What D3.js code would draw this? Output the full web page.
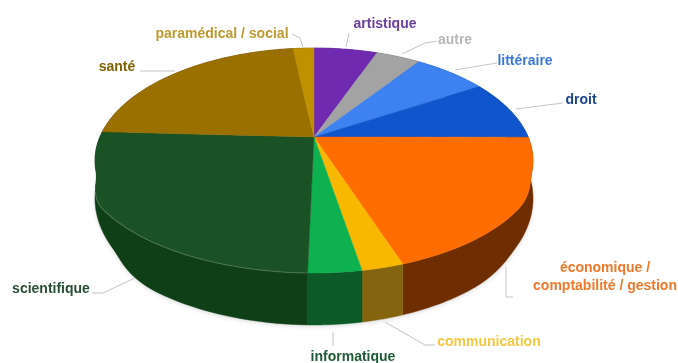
<!DOCTYPE html>
<html>
<head>
<meta charset="utf-8">
<script src="https://cdnjs.cloudflare.com/ajax/libs/d3/7.8.5/d3.min.js"></script>
<style>
html, body { margin: 0; padding: 0; background: #fff; }
svg { display: block; filter: blur(0.55px); }
text { font-family: "Liberation Sans", Arial, sans-serif; font-weight: bold; font-size: 14px; }
</style>
</head>
<body>
<svg id="chart" width="678" height="363"></svg>
<script>
// clockwise from the top of the disc
var categories = ['artistique', 'autre', 'littéraire', 'droit', 'économique / comptabilité / gestion',
	'communication', 'informatique', 'scientifique', 'santé', 'paramédical / social'];
var shares = [5.7, 4.0, 6.6, 8.7, 19.75, 2.45, 3.1, 25.4, 22.3, 1.9];
var sliceColors = ['#6f2ab0', '#a3a3a3', '#3d82f0', '#1155cc', '#ff6d01',
	'#f9b800', '#0eb14f', '#1a5225', '#9a7000', '#bf9000'];
var wallColors = ['#3a1560', '#555555', '#1f4588', '#0a2e70', '#6e2e00',
	'#85640f', '#0b5a27', '#0f3f17', '#503a00', '#604800'];
var labelColors = ['#6b3fa0', '#b7b7b7', '#3c78d8', '#1c4587', '#f0782a',
	'#f5c842', '#1f5c34', '#2a4f36', '#7f6000', '#bf9a30'];

// label layout, one line per row of text
var labelRows = [
	{c: 0, lines: ['artistique'], x: 385, y: 28},
	{c: 1, lines: ['autre'], x: 455, y: 44},
	{c: 2, lines: ['littéraire'], x: 525, y: 65},
	{c: 3, lines: ['droit'], x: 581, y: 104},
	{c: 4, lines: ['économique /', 'comptabilité / gestion'], x: 605, y: 272},
	{c: 5, lines: ['communication'], x: 489, y: 346},
	{c: 6, lines: ['informatique'], x: 353, y: 361},
	{c: 7, lines: ['scientifique'], x: 51, y: 293},
	{c: 8, lines: ['santé'], x: 117, y: 71},
	{c: 9, lines: ['paramédical / social'], x: 222, y: 38}
];
var leaders = [
	[[349, 33], [346, 47]],
	[[437, 41], [425, 43], [402, 54]],
	[[497, 63], [455, 70]],
	[[563, 103], [516, 109]],
	[[506, 267], [506, 297], [513, 297]],
	[[435, 345], [425, 345], [385, 322]],
	[[333, 332], [333, 346]],
	[[92, 293], [103, 293], [135, 278]],
	[[140, 71], [175, 71]],
	[[292, 34], [300, 38], [303, 47]]
];

var svg = d3.select('#chart');

// perspective of the disc
var apexX = 314,
	persp = 0.209,
	radiusX = 214.2;
// the near half of the disc is a bit wider than a true ellipse
var topRim = {y: 137, a: 107.6, left: 0.07, right: 0.035, from: 0.3},
	bottomRim = {y: 172, a: 121, left: 0.07, right: 0.035, from: 0.55};

var project = function(angle, rim, r) {
	var u = Math.sin(angle) * r,
		v = Math.cos(angle) * r,
		w = 1 + persp * v,
		t = Math.max(0, Math.min(1, (-v - rim.from) / 0.3)),
		sx = 1 + (u < 0 ? rim.left : rim.right) * t * t * (3 - 2 * t);
	return [apexX + radiusX * sx * u / w, rim.y - rim.a * v / w];
};

var rimPoints = function(d, rim) {
	var pts = d3.range(0, 61).map(function(i) {
		return project(d.startAngle + (d.endAngle - d.startAngle) * i / 60, rim, 1);
	});
	return pts;
};

var line = d3.line();

var pie = d3.pie().sort(null).value(function(d) { return d; });
var slices = pie(shares);

// soft shadow under the base
svg.append('path')
	.attr('d', line(d3.range(0, 121).map(function(i) {
		return project(i / 120 * 2 * Math.PI, Object.assign({}, bottomRim, {y: bottomRim.y + 1.5}), 1);
	})) + 'Z')
	.attr('fill', '#d8dbd8')
	.style('filter', 'blur(2px)');

// walls first, the top face hides the back ones
svg.selectAll('path.wall')
	.data(slices)
	.enter().append('path')
	.attr('class', 'wall')
	.attr('fill', function(d, i) { return wallColors[i]; })
	.attr('stroke', function(d, i) { return wallColors[i]; })
	.attr('stroke-width', 0.4)
	.attr('d', function(d) {
		return line(rimPoints(d, topRim).concat(rimPoints(d, bottomRim).reverse())) + 'Z';
	});

svg.selectAll('path.slice')
	.data(slices)
	.enter().append('path')
	.attr('class', 'slice')
	.attr('fill', function(d, i) { return sliceColors[i]; })
	.attr('stroke', function(d, i) { return sliceColors[i]; })
	.attr('stroke-width', 0.4)
	.attr('d', function(d) {
		return line([[apexX, topRim.y]].concat(rimPoints(d, topRim))) + 'Z';
	});

// faint light along the edge of the big green slice
svg.append('path')
	.attr('d', line(rimPoints(slices[7], topRim).filter(function(p) { return p[1] > 190; })))
	.attr('fill', 'none')
	.attr('stroke', '#fff')
	.attr('stroke-opacity', 0.16)
	.attr('stroke-width', 1.2);

svg.selectAll('path.leader')
	.data(leaders)
	.enter().append('path')
	.attr('class', 'leader')
	.attr('d', function(d) { return line(d); })
	.attr('fill', 'none')
	.attr('stroke', '#c4c4c4')
	.attr('stroke-width', 1);

labelRows.forEach(function(row) {
	row.lines.forEach(function(s, i) {
		svg.append('text')
			.attr('x', row.x)
			.attr('y', row.y + i * 18)
			.attr('text-anchor', 'middle')
			.attr('fill', labelColors[row.c])
			.text(s);
	});
});
</script>
</body>
</html>
